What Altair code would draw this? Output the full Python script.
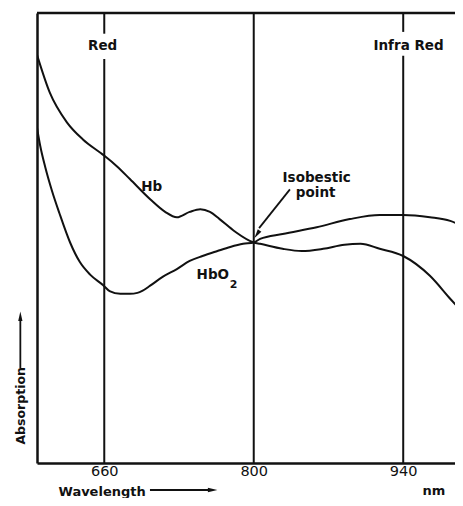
import altair as alt
import pandas as pd

FONT = "DejaVu Sans"
INK = "#111111"

# x domain (nm) and arbitrary absorption scale
X_DOM = [597, 988.5]
Y_DOM = [0, 100]
tick_values = [660, 800, 940]

# Hb (deoxyhaemoglobin) curve
hb_nm = [597, 609, 625, 640, 656, 661, 672, 684, 703, 717, 728, 740, 750, 759, 768, 782,
         800, 806, 827, 845, 865, 885, 900, 918, 940, 965, 984, 995]
hb_abs = [90.7, 82.3, 75.7, 71.9, 69.0, 68.1, 65.9, 63.1, 58.6, 55.8, 54.6, 55.8, 56.4, 55.8, 54.2, 51.5,
          49.0, 48.7, 47.6, 47.1, 47.6, 48.5, 48.7, 47.6, 46.0, 41.6, 36.5, 33.6]

# HbO2 (oxyhaemoglobin) curve
hbo2_nm = [597, 600, 605, 611, 618, 628, 637, 647, 659, 665, 675, 684, 691, 696, 703, 715, 728,
           740, 752, 766, 778, 790, 800, 806, 827, 859, 890, 918, 940, 965, 984, 995]
hbo2_abs = [74.5, 70.5, 65.5, 60.5, 55.5, 49.0, 44.7, 41.8, 39.5, 38.2, 37.6, 37.6, 37.8, 38.3, 39.4, 41.4, 43.1,
            44.9, 46.0, 47.1, 48.0, 48.7, 49.0, 49.8, 50.9, 52.4, 54.2, 55.1, 55.1, 54.6, 53.8, 52.7]

# vertical marker lines (segments, with gaps behind the band labels)
vl_nm = [660, 660, 800, 940, 940]
vl_lo = [0, 95.4, 0, 0, 95.8]
vl_hi = [89.8, 100, 100, 90.5, 100]

# annotation texts
ann_text = ["Red", "Infra Red", "Hb", "HbO", "Isobestic", "point"]
ann_nm = [658.5, 945, 704.5, 746.5, 859, 858]
ann_abs = [92.7, 92.7, 61.3, 41.7, 63.3, 60.0]
ann_align = ["center", "center", "center", "left", "center", "center"]

xs = alt.Scale(domain=X_DOM, nice=False, zero=False, clamp=False)
ys = alt.Scale(domain=Y_DOM, nice=False, zero=False)

x_axis = alt.Axis(
    values=tick_values, format="d", title="Wavelength",
    titleX=21, titleY=32, titleAlign="left", titleAnchor="start", titleBaseline="alphabetic",
    titleFont=FONT, titleFontSize=13, titleFontWeight="bold", titleColor=INK,
    labelFont=FONT, labelFontSize=14.5, labelColor=INK, labelPadding=1,
    ticks=False, grid=False, domainColor=INK, domainWidth=2.5)
y_axis = alt.Axis(labels=False, ticks=False, grid=False, title=None,
                  domainColor=INK, domainWidth=2.5)


def X(f):
    return alt.X(f, scale=xs, axis=x_axis, title="Wavelength")


def Y(f):
    return alt.Y(f, scale=ys, axis=y_axis, title=None)


curve_df = pd.DataFrame({
    "nm": hb_nm + hbo2_nm,
    "a": hb_abs + hbo2_abs,
    "series": ["Hb"] * len(hb_nm) + ["HbO2"] * len(hbo2_nm),
})

curves = alt.Chart(curve_df).mark_line(color=INK, strokeWidth=2, interpolate="monotone", clip=True).encode(
    x=X("nm:Q"), y=Y("a:Q"), detail="series:N")

top_df = pd.DataFrame({"nm": [X_DOM[0]], "nm2": [X_DOM[1]], "a": [Y_DOM[1]]})
top = alt.Chart(top_df).mark_rule(color=INK, strokeWidth=2.5).encode(
    x=X("nm:Q"), x2="nm2:Q", y=Y("a:Q"))

vl_df = pd.DataFrame({"nm": vl_nm, "a": vl_lo, "a2": vl_hi})
vlines = alt.Chart(vl_df).mark_rule(color=INK, strokeWidth=2).encode(
    x=X("nm:Q"), y=Y("a:Q"), y2="a2:Q")

ann_df = pd.DataFrame({"t": ann_text, "nm": ann_nm, "a": ann_abs, "al": ann_align})
ann_c = alt.Chart(ann_df[ann_df.al == "center"]).mark_text(
    font=FONT, fontSize=13.5, fontWeight="bold", color=INK, align="center", baseline="middle").encode(
    x=X("nm:Q"), y=Y("a:Q"), text="t:N")
ann_l = alt.Chart(ann_df[ann_df.al == "left"]).mark_text(
    font=FONT, fontSize=13.5, fontWeight="bold", color=INK, align="left", baseline="middle").encode(
    x=X("nm:Q"), y=Y("a:Q"), text="t:N")

sub_df = pd.DataFrame({"t": ["2"], "nm": [777.5], "a": [39.6]})
sub = alt.Chart(sub_df).mark_text(font=FONT, fontSize=11, fontWeight="bold", color=INK,
                                  align="left", baseline="middle").encode(
    x=X("nm:Q"), y=Y("a:Q"), text="t:N")

# "nm" unit label and the rotated y title
nm_df = pd.DataFrame({"t": ["nm"], "nm": [968.8], "a": [-7.1]})
nm_lab = alt.Chart(nm_df).mark_text(font=FONT, fontSize=13, fontWeight="bold", color=INK,
                                    align="center", baseline="alphabetic").encode(
    x=X("nm:Q"), y=Y("a:Q"), text="t:N")

ab_df = pd.DataFrame({"t": ["Absorption"], "nm": [582.3], "a": [12.7]})
ab_lab = alt.Chart(ab_df).mark_text(font=FONT, fontSize=12.5, fontWeight="bold", color=INK, align="center",
                                    baseline="middle", angle=270).encode(
    x=X("nm:Q"), y=Y("a:Q"), text="t:N")

# arrows: shafts
shaft_df = pd.DataFrame({
    "nm": [702.8, 581.4, 833.9],
    "nm2": [758.0, 581.4, 805.0],
    "a": [-6.0, 21.1, 60.8],
    "a2": [-6.0, 32.0, 52.2],
})
shafts = alt.Chart(shaft_df).mark_rule(color=INK, strokeWidth=1.8).encode(
    x=X("nm:Q"), x2="nm2:Q", y=Y("a:Q"), y2="a2:Q")

# arrow heads
head_df = pd.DataFrame({
    "nm": [761.5, 581.4, 803.0],
    "a": [-6.0, 32.6, 50.8],
    "ang": [90, 0, 214],
})
heads = alt.Chart(head_df).mark_point(
    shape="M0,-1L0.45,1L-0.45,1Z", filled=True, color=INK, opacity=1, size=90, strokeWidth=0).encode(
    x=X("nm:Q"), y=Y("a:Q"), angle=alt.Angle("ang:Q", scale=None))

chart = alt.layer(curves, top, vlines, ann_c, ann_l, sub, nm_lab, ab_lab, shafts, heads).properties(
    width=418, height=450,
    autosize=alt.AutoSizeParams(type="none"),
    padding={"left": 29, "top": 5, "right": 0, "bottom": 35},
    background="white",
).configure_view(strokeWidth=0)

chart.save("out.html", embed_options={"renderer": "svg", "actions": False})
